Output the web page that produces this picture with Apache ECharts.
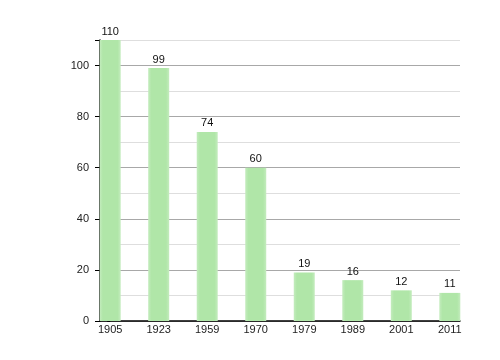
<!DOCTYPE html>
<html><head><meta charset="utf-8">
<script src="https://cdn.jsdelivr.net/npm/echarts@6/dist/echarts.min.js"></script>
<style>html,body{margin:0;padding:0;background:#fff}#c{width:500px;height:360px}</style>
</head><body><div id="c"></div>
<script>
var categories = ['1905','1923','1959','1970','1979','1989','2001','2011'];
var values = [110, 99, 74, 60, 19, 16, 12, 11];
var yTicks = [0, 20, 40, 60, 80, 100];

var chart = echarts.init(document.getElementById('c'), null, {renderer:'canvas'});
var font = 'Liberation Sans, Arial, sans-serif';
var catIdx = categories.map(function(c,i){return i;});
chart.setOption({
  animation:false,
  grid:{left:100, right:40, top:40, bottom:39},
  xAxis:{type:'value', min:-0.21, max:7.21,
    axisLine:{show:true, onZero:false, lineStyle:{color:'#000', width:1.5}},
    axisTick:{show:false},
    splitLine:{show:false},
    axisLabel:{customValues:catIdx, formatter:function(v){return categories[Math.round(v)];},
      color:'#222', fontSize:11, fontFamily:font, margin:3}
  },
  yAxis:[{type:'value', min:0, max:110, interval:10,
    axisLine:{show:false},
    axisTick:{show:true, length:3, lineStyle:{color:'#000'}},
    axisLabel:{show:false},
    splitLine:{show:true, lineStyle:{color:['#a8a8a8','#dedede'], width:1}}
  },{type:'value', min:0, max:110, position:'left',
    axisLine:{show:true, lineStyle:{color:'#000', width:1.5}},
    axisTick:{show:true, length:5, customValues:yTicks.concat([110]), lineStyle:{color:'#000'}},
    axisLabel:{customValues:yTicks, color:'#222', fontSize:11, fontFamily:font, margin:11},
    splitLine:{show:false}
  }],
  series:[{type:'bar', barWidth:21,
    data:values.map(function(v,i){return [i,v];}),
    itemStyle:{color:new echarts.graphic.LinearGradient(0,0,1,0,[
      {offset:0,color:'#c4ecbe'},{offset:0.15,color:'#b0e6a8'},{offset:0.85,color:'#b0e6a8'},{offset:1,color:'#c4ecbe'}])},
    label:{show:true, position:'top', distance:3, color:'#111', fontSize:11, fontFamily:font,
      formatter:function(p){return p.value[1];}}
  }]
});
</script></body></html>
